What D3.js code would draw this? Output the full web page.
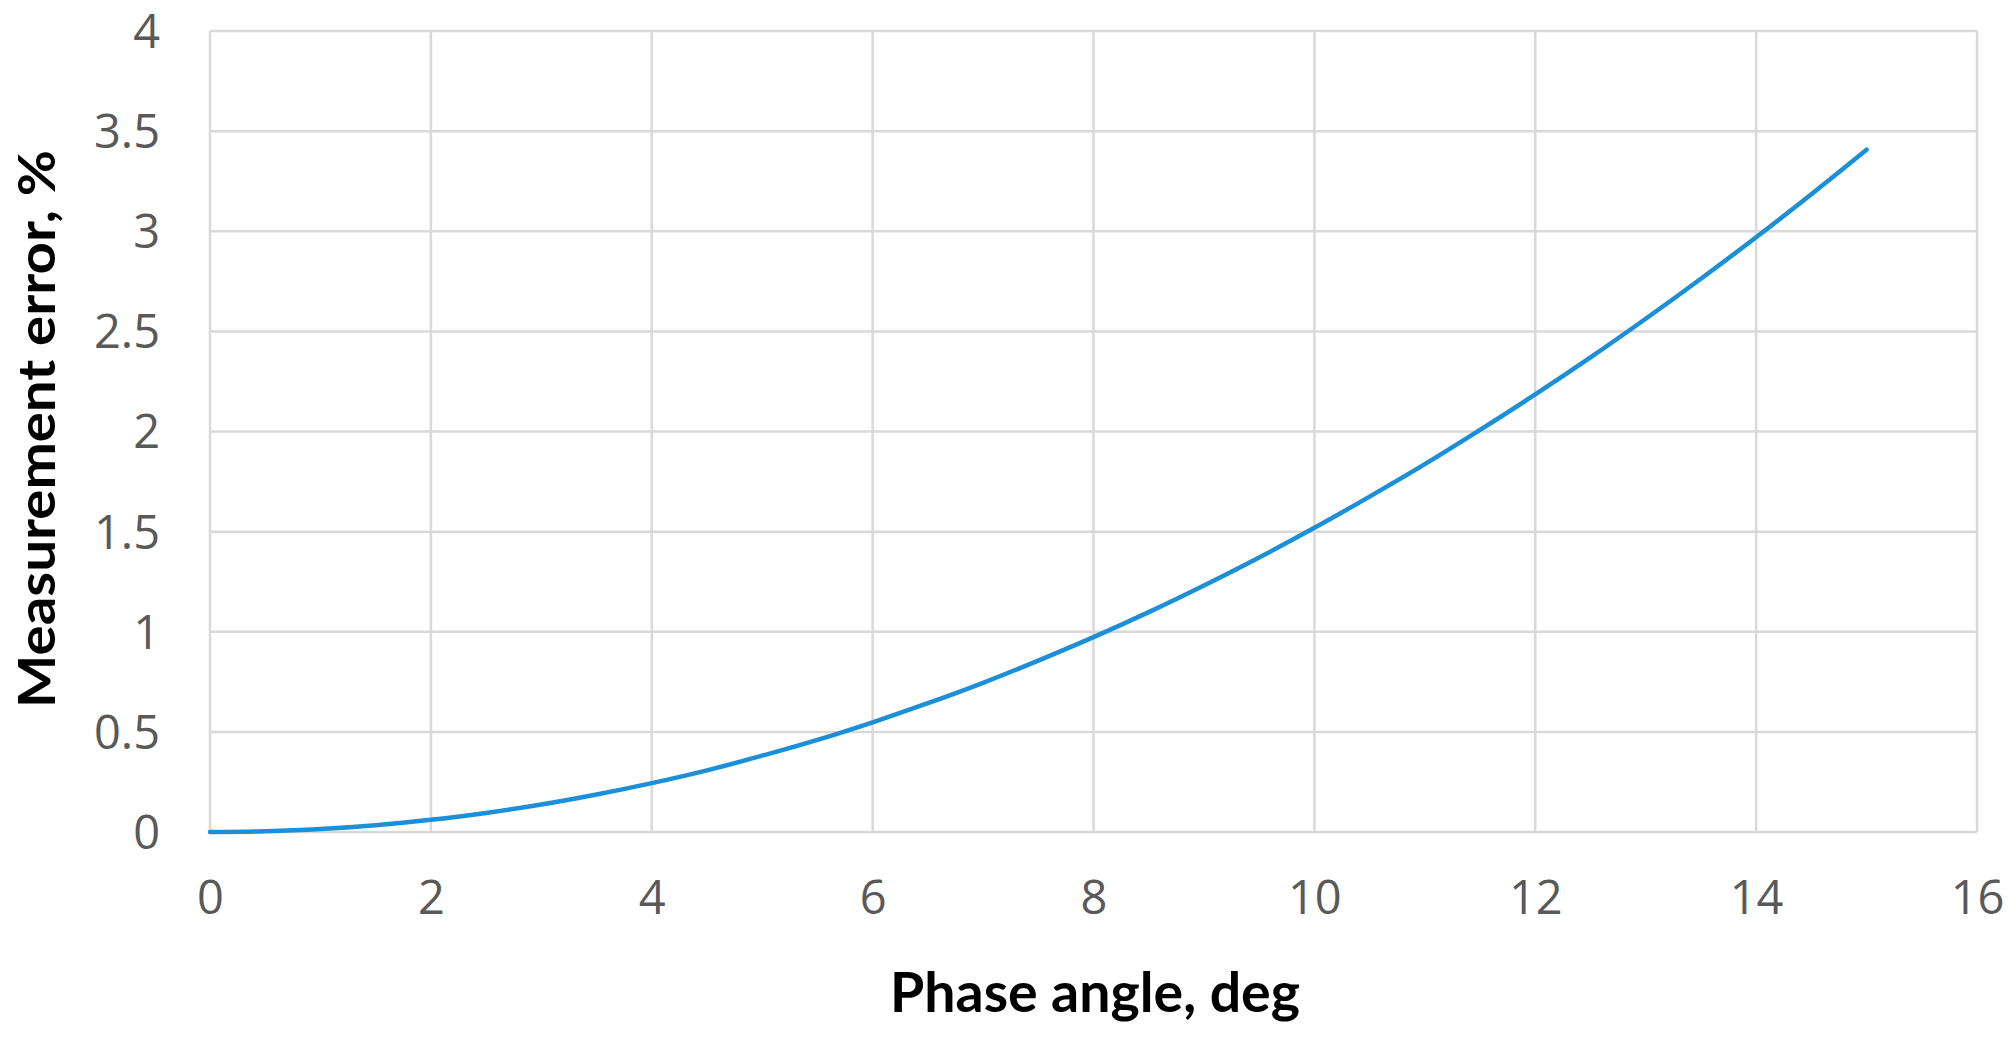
<!DOCTYPE html>
<html><head><meta charset="utf-8">
<script src="https://cdn.jsdelivr.net/npm/d3@7"></script>
<style>body{margin:0;background:#fff}</style>
</head><body>
<svg id="c" width="2016" height="1038"></svg>
<script>
const phaseAngle = [0,0.5,1,1.5,2,2.5,3,3.5,4,4.5,5,5.5,6,6.5,7,7.5,8,8.5,9,9.5,10,10.5,11,11.5,12,12.5,13,13.5,14,14.5,15];
const errorPct   = [0,0.004,0.015,0.034,0.061,0.095,0.137,0.187,0.244,0.308,0.381,0.460,0.548,0.643,0.745,0.856,0.973,1.098,1.231,1.371,1.519,1.675,1.837,2.008,2.185,2.370,2.563,2.763,2.970,3.185,3.407];
const xTicks = [0,2,4,6,8,10,12,14,16];
const yTicks = [0,0.5,1,1.5,2,2.5,3,3.5,4];
const xTitle = "Phase angle, deg";
const yTitle = "Measurement error, %";

const svg = d3.select("#c");
const L=210, R=1977, T=31, B=832;
const x = d3.scaleLinear().domain([0,16]).range([L,R]);
const y = d3.scaleLinear().domain([0,4]).range([B,T]);
const font = "'Open Sans', Lato, sans-serif";
const tfont = "Lato, 'Open Sans', sans-serif";

const grid = svg.append("g");
grid.selectAll("line.h").data(yTicks).join("line")
  .attr("x1",L).attr("x2",R).attr("y1",d=>y(d)).attr("y2",d=>y(d))
  .attr("stroke","#d9d9d9").attr("stroke-width",2.5);
grid.selectAll("line.v").data(xTicks).join("line")
  .attr("y1",T).attr("y2",B).attr("x1",d=>x(d)).attr("x2",d=>x(d))
  .attr("stroke","#d9d9d9").attr("stroke-width",2.5);

const xa = svg.append("g").attr("transform",`translate(0,${B})`)
  .call(d3.axisBottom(x).tickValues(xTicks).tickSize(0).tickPadding(50).tickFormat(d3.format("")));
const ya = svg.append("g").attr("transform",`translate(${L},0)`)
  .call(d3.axisLeft(y).tickValues(yTicks).tickSize(0).tickPadding(50).tickFormat(d3.format("")));
[xa,ya].forEach(a=>{
  a.select(".domain").remove();
  a.selectAll("text").attr("font-family",font).attr("font-size",47).attr("fill","#595959");
});
xa.selectAll("text").attr("dy","0.71em").attr("y",49);
ya.selectAll("text").attr("x",-50).attr("dy","0.35em");

svg.append("path").datum(phaseAngle.map((v,i)=>[v,errorPct[i]]))
  .attr("fill","none").attr("stroke","#1b8fd8").attr("stroke-width",4.5)
  .attr("stroke-linecap","round")
  .attr("d",d3.line().x(d=>x(d[0])).y(d=>y(d[1])).curve(d3.curveMonotoneX));

svg.append("text").attr("x",1095).attr("y",1012).attr("text-anchor","middle")
  .attr("font-family",tfont).attr("font-weight","bold").attr("font-size",55).attr("fill","#000")
  .attr("textLength",410).attr("lengthAdjust","spacingAndGlyphs")
  .text(xTitle);
svg.append("text").attr("transform","translate(55,429) rotate(-90)").attr("text-anchor","middle")
  .attr("font-family",tfont).attr("font-weight","bold").attr("font-size",52).attr("fill","#000")
  .attr("textLength",558).attr("lengthAdjust","spacingAndGlyphs")
  .text(yTitle);
</script>
</body></html>
